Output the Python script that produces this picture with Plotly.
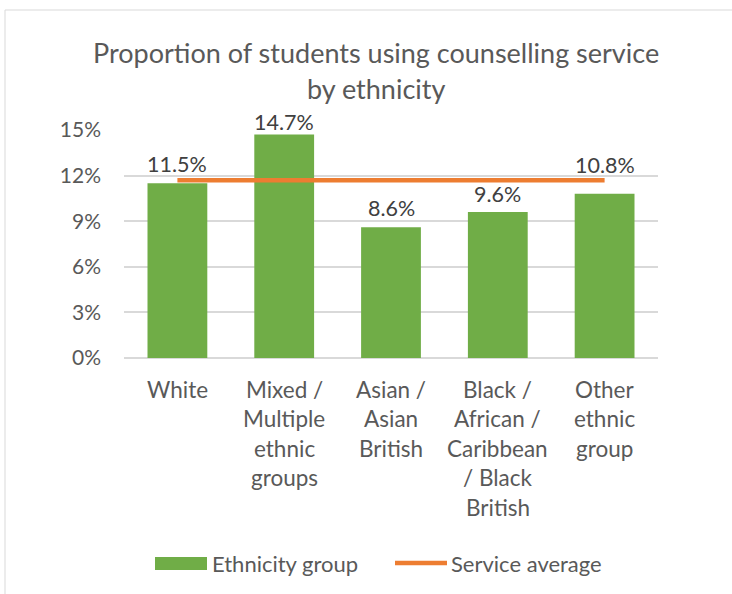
import plotly.graph_objects as go

# ---- data ----
categories = ["White", "Mixed / Multiple ethnic groups", "Asian / Asian British",
              "Black / African / Caribbean / Black British", "Other ethnic group"]
category_lines = [["White"],
                  ["Mixed /", "Multiple", "ethnic", "groups"],
                  ["Asian /", "Asian", "British"],
                  ["Black /", "African /", "Caribbean", "/ Black", "British"],
                  ["Other", "ethnic", "group"]]
ethnicity_pct = [11.5, 14.7, 8.6, 9.6, 10.8]
service_avg = [11.7, 11.7, 11.7, 11.7, 11.7]
y_ticks = [0, 3, 6, 9, 12, 15]
y_tick_labels = ["0%", "3%", "6%", "9%", "12%", "15%"]

# ---- style ----
FONT = "Lato"
GREEN = "#70AD47"
ORANGE = "#ED7D31"
GRAY = "#595959"
DARK = "#404040"
W, H = 732, 594
L, R, T, B = 124, 74, 130, 236
PW, PH = W - L - R, H - T - B


def px(x):
    return (x - L) / PW


def py(y):
    return (H - B - y) / PH


label_shift = [19, 13, 19, 18, 29]

fig = go.Figure()
fig.add_trace(go.Bar(x=categories, y=ethnicity_pct, marker=dict(color=GREEN, line=dict(width=0)),
                     name="Ethnicity group", hoverinfo="skip"))
fig.add_trace(go.Scatter(x=categories, y=service_avg, mode="lines", name="Service average",
                         line=dict(color=ORANGE, width=4.5), hoverinfo="skip"))

annotations = []
for c, v, s in zip(categories, ethnicity_pct, label_shift):
    annotations.append(dict(x=c, y=v, xref="x", yref="y", text=f"{v:.1f}%", showarrow=False,
                            yanchor="middle", yshift=s, font=dict(family=FONT, size=21.5, color=DARK)))
for c, lines in zip(categories, category_lines):
    for i, ln in enumerate(lines):
        annotations.append(dict(x=c, y=py(389 + i * 29.5), xref="x", yref="paper", text=ln,
                                showarrow=False, yanchor="middle",
                                font=dict(family=FONT, size=22.5, color=GRAY)))
# title lines
for i, t in enumerate(["Proportion of students using counselling service", "by ethnicity"]):
    annotations.append(dict(x=px(376), y=py(52 + i * 36), xref="paper", yref="paper", text=t,
                            showarrow=False, xanchor="center", yanchor="middle",
                            font=dict(family=FONT, size=27, color=GRAY)))
# legend texts
annotations.append(dict(x=px(210), y=py(563), xref="paper", yref="paper", text="Ethnicity group",
                        showarrow=False, xanchor="left", yanchor="middle",
                        font=dict(family=FONT, size=22, color=GRAY)))
annotations.append(dict(x=px(449), y=py(563), xref="paper", yref="paper", text="Service average",
                        showarrow=False, xanchor="left", yanchor="middle",
                        font=dict(family=FONT, size=22, color=GRAY)))

shapes = [
    dict(type="rect", xref="paper", yref="paper", x0=px(5), x1=px(760), y0=py(620), y1=py(10),
         line=dict(color="#D9D9D9", width=1), fillcolor="rgba(0,0,0,0)", layer="below"),
    dict(type="rect", xref="paper", yref="paper", x0=px(155), x1=px(207), y0=py(570), y1=py(557),
         line=dict(width=0), fillcolor=GREEN),
    dict(type="line", xref="paper", yref="paper", x0=px(395), x1=px(447), y0=py(563), y1=py(563),
         line=dict(color=ORANGE, width=4.5)),
]

fig.update_layout(
    width=W, height=H,
    margin=dict(l=L, r=R, t=T, b=B),
    paper_bgcolor="white", plot_bgcolor="white",
    showlegend=False,
    bargap=0.44,
    annotations=annotations,
    shapes=shapes,
    font=dict(family=FONT, color=GRAY),
)
fig.update_xaxes(showticklabels=False, showgrid=False, zeroline=False, showline=False, ticks="")
fig.update_yaxes(range=[0, 15], tickvals=y_ticks, ticktext=y_tick_labels,
                 showgrid=True, gridcolor="#D9D9D9", gridwidth=1.5,
                 zeroline=True, zerolinecolor="#D9D9D9", zerolinewidth=1.5,
                 showline=False, ticks="", ticklabelstandoff=22,
                 tickfont=dict(family=FONT, size=21, color=GRAY))

fig.write_html("out.html", config={"displayModeBar": False},
               post_script="document.body.style.margin='0';document.body.style.overflow='hidden';")
